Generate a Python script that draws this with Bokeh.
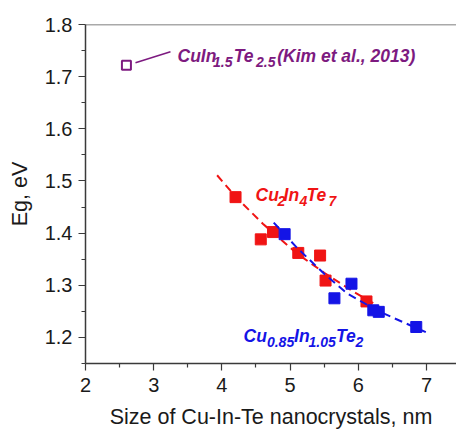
from bokeh.plotting import figure
from bokeh.models import Range1d, FixedTicker, Label, Span
from bokeh.embed import file_html
from bokeh.resources import INLINE

# ---- data ----
kim_x = [2.6]
kim_y = [1.722]

red_x = [4.2, 4.57, 4.75, 5.12, 5.44, 5.52, 6.12]
red_y = [1.469, 1.388, 1.402, 1.362, 1.357, 1.309, 1.269]

blue_x = [4.92, 5.65, 5.90, 6.22, 6.30, 6.85]
blue_y = [1.398, 1.275, 1.303, 1.252, 1.249, 1.220]

red_fit_x = [3.93, 4.2, 4.6, 5.1, 5.5, 5.9, 6.23]
red_fit_y = [1.511, 1.470, 1.418, 1.361, 1.324, 1.290, 1.265]

blue_fit_x = [4.76, 5.1, 5.5, 5.84, 6.3, 6.99]
blue_fit_y = [1.420, 1.372, 1.322, 1.284, 1.250, 1.210]

x_ticks = [2, 3, 4, 5, 6, 7]
x_minor = [2.5, 3.5, 4.5, 5.5, 6.5]
y_ticks = [1.2, 1.3, 1.4, 1.5, 1.6, 1.7, 1.8]
y_minor = [1.15, 1.25, 1.35, 1.45, 1.55, 1.65, 1.75]

RED = "#f01414"
BLUE = "#1414e6"
PURPLE = "#7d1a80"
AXC = "#3a3a3a"

p = figure(frame_width=371, frame_height=339, output_backend="svg",
           toolbar_location=None, min_border_left=85, min_border_top=24,
           min_border_right=0, min_border_bottom=0,
           x_range=Range1d(2, 7.44), y_range=Range1d(1.15, 1.8))
p.outline_line_color = None
p.xgrid.visible = False
p.ygrid.visible = False
p.background_fill_color = "white"

for ax in (p.xaxis[0], p.yaxis[0]):
    ax.axis_line_color = AXC
    ax.axis_line_width = 1.5
    ax.major_tick_line_color = AXC
    ax.minor_tick_line_color = AXC
    ax.major_tick_line_width = 1.2
    ax.minor_tick_line_width = 1.2
    ax.major_tick_out = 7
    ax.major_tick_in = 0
    ax.minor_tick_out = 4
    ax.minor_tick_in = 0
    ax.major_label_text_font = "Liberation Sans"
    ax.major_label_text_font_size = "20px"
    ax.major_label_text_color = "#1a1a1a"
    ax.axis_label_text_font = "Liberation Sans"
    ax.axis_label_text_font_size = "21.5px"
    ax.axis_label_text_font_style = "normal"
    ax.axis_label_text_color = "#1a1a1a"

p.xaxis.ticker = FixedTicker(ticks=x_ticks, minor_ticks=x_minor)
p.yaxis.ticker = FixedTicker(ticks=y_ticks, minor_ticks=y_minor)
p.xaxis.axis_label = "Size of Cu-In-Te nanocrystals, nm"
p.yaxis.axis_label = "Eg, eV"
p.xaxis.major_label_standoff = 7
p.xaxis.axis_label_standoff = 10
p.yaxis.major_label_standoff = 6
p.yaxis.axis_label_standoff = 10

p.add_layout(Span(location=1.8, dimension="width", line_color="#555555", line_width=1.5))

# fit lines
p.line(red_fit_x, red_fit_y, line_color=RED, line_width=2, line_dash="8 5")
p.scatter(red_x, red_y, marker="square", size=11, fill_color=RED, line_color=RED)
p.line(blue_fit_x, blue_fit_y, line_color=BLUE, line_width=2, line_dash="8 5")
p.scatter(blue_x, blue_y, marker="square", size=11, fill_color=BLUE, line_color=BLUE)
p.scatter(kim_x, kim_y, marker="square", size=9, fill_color=None, line_color=PURPLE, line_width=2)

# leader line for the Kim et al. point
p.segment(x0=[kim_x[0] + 0.133], y0=[kim_y[0] + 0.0045], x1=[3.246], y1=[1.7476],
          line_color=PURPLE, line_width=1.5)

FONT = "Liberation Sans"


def formula(x, y, pieces, color, size_main=17.5, size_sub=14):
    for txt, dx, sub in pieces:
        p.add_layout(Label(x=x, y=y, x_offset=dx, y_offset=(-6 if sub else 0), text=txt,
                           text_font=FONT, text_font_style="bold italic",
                           text_font_size=f"{size_sub if sub else size_main}px",
                           text_color=color, text_baseline="alphabetic", text_align="left"))


formula(3.349, 1.739, [("CuIn", 0, False), ("1.5", 35.5, True), ("Te", 56.3, False),
                       ("2.5", 78.5, True), ("(Kim et al., 2013)", 99.7, False)], PURPLE)
formula(4.493, 1.4726, [("Cu", 0, False), ("2", 22, True), ("In", 28, False),
                        ("4", 44, True), ("Te", 51, False), ("7", 73, True)], RED)
formula(4.317, 1.203, [("Cu", 0, False), ("0.85", 23.4, True), ("In", 50.5, False),
                       ("1.05", 65, True), ("Te", 92.5, False), ("2", 112, True)], BLUE)

open("out.html", "w").write(file_html(p, INLINE))
